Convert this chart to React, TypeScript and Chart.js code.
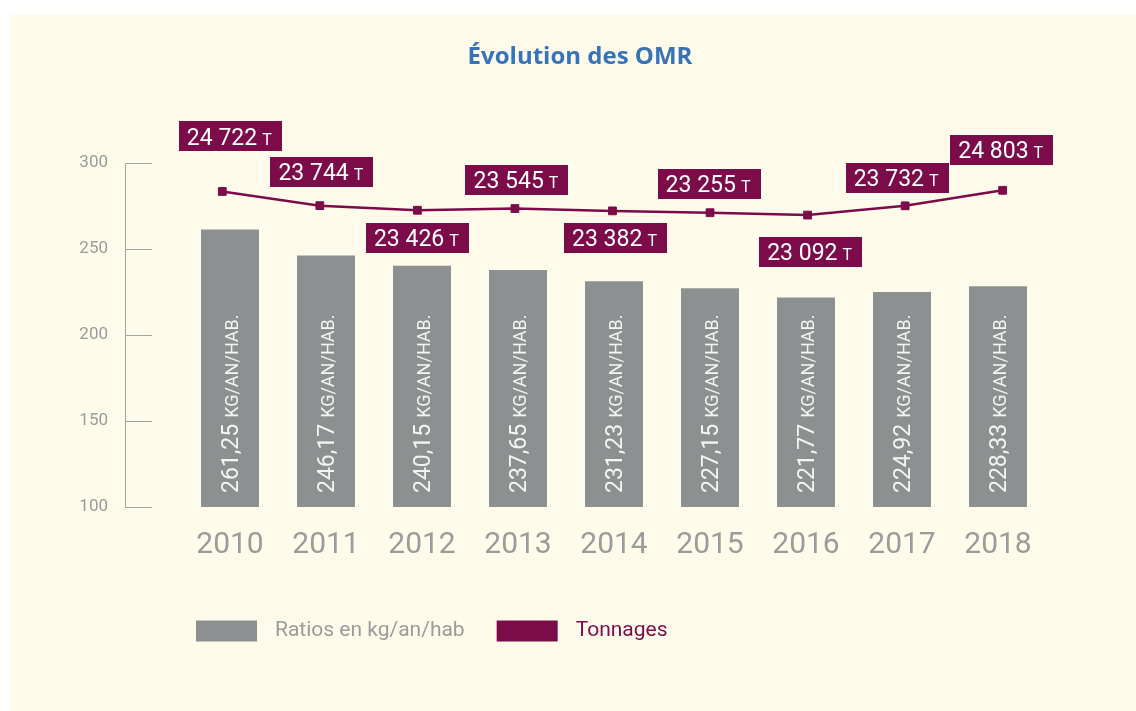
import React, { useEffect, useRef } from 'react';
import { Chart, registerables } from 'chart.js';

Chart.register(...registerables);

// ---- data ----
const years = ['2010', '2011', '2012', '2013', '2014', '2015', '2016', '2017', '2018'];
const ratios = [261.25, 246.17, 240.15, 237.65, 231.23, 227.15, 221.77, 224.92, 228.33];
const tonnages = [24722, 23744, 23426, 23545, 23382, 23255, 23092, 23732, 24803];
const ratioAxis = { min: 100, max: 300, step: 50 };
const seriesNames = { ratio: 'Ratios en kg/an/hab', tonnage: 'Tonnages' };
const ratioUnit = 'KG/AN/HAB.';
const tonnageUnit = 'T';
const titleText = 'Évolution des OMR';

// placement of tonnage label boxes relative to their point: [dx, dy] of box centre
const tonnageLabelPlacement: [number, number][] = [
  [8, -55], [2, -34], [0, 28], [2, -29], [3, 27], [-1, -29], [3, 37], [-8, -28], [-1, -40],
];

// ---- styles ----
const CREAM = '#FFFBEA';
const GREY_BAR = '#8D9091';
const BURGUNDY = '#7C0B4A';
const AXIS_TEXT = '#9B9B9B';
const AXIS_LINE = '#A3A3A3';
const TITLE_BLUE = '#3873B7';
const FONT = 'Roboto';

const fmtTonnage = (n: number) => String(n).replace(/\B(?=(\d{3})+(?!\d))/g, ' ');
const fmtRatio = (v: number) => v.toFixed(2).replace('.', ',');

const decorPlugin = {
  id: 'decor',
  afterDatasetsDraw(chart: any) {
    const ctx: CanvasRenderingContext2D = chart.ctx;
    const yScale = chart.scales.y;
    const basePx = yScale.getPixelForValue(ratioAxis.min);
    ctx.save();

    // rotated labels inside bars
    const barMeta = chart.getDatasetMeta(1);
    barMeta.data.forEach((el: any, i: number) => {
      ctx.save();
      ctx.translate(el.x, basePx - 14);
      ctx.rotate(-Math.PI / 2);
      ctx.fillStyle = '#F4F4F2';
      ctx.textBaseline = 'alphabetic';
      ctx.textAlign = 'left';
      const num = fmtRatio(ratios[i]);
      ctx.font = `400 23px ${FONT}`;
      const w = ctx.measureText(num).width;
      const base = 0.711 * 23 / 2;
      ctx.fillText(num, 0, base);
      ctx.font = `400 18px ${FONT}`;
      ctx.fillText(ratioUnit, w + 6, base);
      ctx.restore();
    });

    // tonnage label boxes
    const lineMeta = chart.getDatasetMeta(0);
    lineMeta.data.forEach((pt: any, i: number) => {
      const [dx, dy] = tonnageLabelPlacement[i];
      const cx = pt.x + dx;
      const cy = pt.y + dy;
      const num = fmtTonnage(tonnages[i]);
      ctx.font = `400 23px ${FONT}`;
      const wNum = ctx.measureText(num).width;
      ctx.font = `400 16px ${FONT}`;
      const wT = ctx.measureText(tonnageUnit).width;
      const padL = 8, padR = 10, gap = 5, h = 30;
      const w = padL + wNum + gap + wT + padR;
      const x0 = cx - w / 2;
      ctx.fillStyle = BURGUNDY;
      ctx.fillRect(Math.round(x0), Math.round(cy - h / 2), Math.round(w), h);
      ctx.fillStyle = '#FFFFFF';
      ctx.textAlign = 'left';
      ctx.textBaseline = 'alphabetic';
      const baseline = cy + 0.711 * 23 / 2;
      ctx.font = `400 23px ${FONT}`;
      ctx.fillText(num, x0 + padL, baseline);
      ctx.font = `400 16px ${FONT}`;
      ctx.fillText(tonnageUnit, x0 + padL + wNum + gap, baseline);
    });
    ctx.restore();
  },
  afterDraw(chart: any) {
    const ctx: CanvasRenderingContext2D = chart.ctx;
    const y = chart.scales.y;
    const area = chart.chartArea;
    ctx.save();
    // bracket-style value axis
    ctx.strokeStyle = AXIS_LINE;
    ctx.lineWidth = 1;
    const axisX = Math.round(area.left - 57) + 0.5;
    const tickEnd = area.left - 30;
    const yTop = Math.round(y.getPixelForValue(ratioAxis.max)) + 0.5;
    const yBot = Math.round(y.getPixelForValue(ratioAxis.min)) + 0.5;
    ctx.beginPath();
    ctx.moveTo(axisX, yTop);
    ctx.lineTo(axisX, yBot);
    y.ticks.forEach((t: any) => {
      const py = Math.round(y.getPixelForValue(t.value)) + 0.5;
      ctx.moveTo(axisX, py);
      ctx.lineTo(tickEnd, py);
    });
    ctx.stroke();

    // legend
    const items = [
      { label: seriesNames.ratio, box: GREY_BAR, text: AXIS_TEXT },
      { label: seriesNames.tonnage, box: BURGUNDY, text: BURGUNDY },
    ];
    let x = area.left + 14;
    const cy = area.bottom + 124;
    ctx.font = `400 21px ${FONT}`;
    ctx.textBaseline = 'middle';
    ctx.textAlign = 'left';
    items.forEach((it) => {
      ctx.fillStyle = it.box;
      ctx.fillRect(x, cy - 10.5, 61, 21);
      x += 61 + 18;
      ctx.fillStyle = it.text;
      ctx.fillText(it.label, x, cy);
      x += ctx.measureText(it.label).width + 32;
    });
    ctx.restore();
  },
};

export default function App() {
  const ref = useRef<HTMLCanvasElement>(null);

  useEffect(() => {
    if (!ref.current) return;
    Chart.defaults.font.family = FONT;
    const chart = new Chart(ref.current, {
      type: 'bar',
      data: {
        labels: years,
        datasets: [
          {
            type: 'line',
            label: seriesNames.tonnage,
            data: tonnages.map((t, i) => ({ x: i, y: t })),
            xAxisID: 'x2',
            yAxisID: 'y2',
            borderColor: BURGUNDY,
            backgroundColor: BURGUNDY,
            borderWidth: 2.5,
            pointStyle: 'rect',
            pointRadius: 5.5,
            pointBorderWidth: 1,
            pointBorderColor: BURGUNDY,
            pointBackgroundColor: BURGUNDY,
            tension: 0,
            order: 0,
          } as any,
          {
            type: 'bar',
            label: seriesNames.ratio,
            data: ratios,
            xAxisID: 'x',
            yAxisID: 'y',
            base: ratioAxis.min,
            grouped: false,
            backgroundColor: GREY_BAR,
            categoryPercentage: 1,
            barPercentage: 0.604,
            order: 1,
          } as any,
        ],
      },
      options: {
        responsive: false,
        animation: false,
        layout: { padding: { left: 14, right: 0, top: 0, bottom: 150 } },
        plugins: {
          legend: { display: false },
          tooltip: { enabled: false },
          title: {
            display: true,
            text: titleText,
            color: TITLE_BLUE,
            font: { family: 'Open Sans', size: 24, weight: 'bold' },
            padding: { top: 28, bottom: 91 },
          },
        },
        scales: {
          x: {
            type: 'category',
            offset: true,
            grid: { display: false, drawTicks: false },
            border: { display: false },
            ticks: { color: AXIS_TEXT, font: { size: 30 }, padding: 20 },
            afterFit: (s: any) => { s.height = 54; },
          },
          x2: {
            type: 'linear',
            display: false,
            offset: false,
            grid: { offset: false },
            min: -0.413,
            max: 8.444,
          },
          y: {
            position: 'left',
            min: ratioAxis.min,
            max: ratioAxis.max,
            grid: { display: false, drawTicks: false },
            border: { display: false },
            ticks: { stepSize: ratioAxis.step, color: AXIS_TEXT, font: { size: 17 }, padding: 74 },
            afterFit: (s: any) => { s.width = 158; },
          },
          y2: {
            position: 'right',
            min: 2950,
            max: 26700,
            grid: { display: false, drawTicks: false },
            border: { display: false },
            ticks: { display: false },
            afterFit: (s: any) => { s.width = 90; },
          },
        },
      } as any,
      plugins: [decorPlugin],
    });
    return () => chart.destroy();
  }, []);

  return (
    <div style={{ position: 'fixed', left: 0, top: 0, width: 1136, height: 711, background: '#FFFFFF' }}>
      <div style={{ position: 'absolute', left: 10, top: 15, width: 1126, height: 696, background: CREAM }}>
        <canvas ref={ref} width={1126} height={696} style={{ display: 'block', width: 1126, height: 696 }} />
      </div>
    </div>
  );
}
